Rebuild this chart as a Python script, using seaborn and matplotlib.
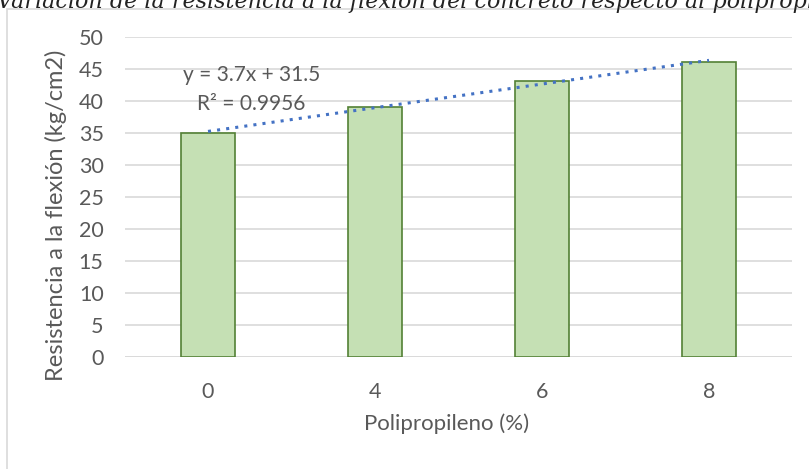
import numpy as np
import pandas as pd
import matplotlib
matplotlib.use("Agg")
import matplotlib.pyplot as plt
import seaborn as sns
from matplotlib.patches import Rectangle

# Data
polipropileno = ["0", "4", "6", "8"]
resistencia = [35, 39, 43, 46]
y_ticks = [0, 5, 10, 15, 20, 25, 30, 35, 40, 45, 50]

titulo = "Variación de la resistencia a la flexión del concreto respecto al polipropileno"

sns.set_theme(style="white")
plt.rcParams['font.family'] = ['Lato', 'DejaVu Sans']

gray_text = "#595959"
grid_color = "#D9D9D9"

df = pd.DataFrame({"Polipropileno": polipropileno, "Resistencia": resistencia})

fig = plt.figure(figsize=(8.09, 4.69), dpi=100)
ax = fig.add_axes([0.1539, 0.2395, 0.8257, 0.6823])

sns.barplot(data=df, x="Polipropileno", y="Resistencia", ax=ax,
            color="#C5E0B4", edgecolor="#538135", linewidth=1.2,
            width=0.32, saturation=1, zorder=3)

# linear trendline (Excel style, on category index 1..n)
idx = np.arange(1, len(resistencia) + 1)
slope, intercept = np.polyfit(idx, resistencia, 1)
fit = slope * idx + intercept
r2 = 1 - np.sum((np.array(resistencia) - fit) ** 2) / np.sum((np.array(resistencia) - np.mean(resistencia)) ** 2)
ax.plot(idx - 1, fit, linestyle=(0, (1, 2)), color="#4472C4", linewidth=2.2, zorder=4)

ax.set_ylim(0, 50)
ax.set_xlim(-0.5, len(polipropileno) - 0.5)
ax.set_yticks(y_ticks)
ax.yaxis.grid(True, color=grid_color, linewidth=1.2, zorder=0)
ax.set_axisbelow(True)
for s in ax.spines.values():
    s.set_visible(False)
ax.axhline(0, color=grid_color, linewidth=1.2, zorder=2)
ax.tick_params(axis="both", length=0, labelsize=15.5, colors=gray_text)
ax.tick_params(axis="y", pad=15)
ax.tick_params(axis="x", pad=18)
ax.set_xlabel("")
ax.set_ylabel("")

fig.text(0.5515, 0.096, "Polipropileno (%)", ha="center", va="center",
         fontsize=16, color=gray_text)
fig.text(0.069, 0.5416, "Resistencia a la flexión (kg/cm2)", ha="center", va="center",
         rotation=90, fontsize=17, color=gray_text)

ax.text(0.19, 0.88, "y = %.1fx + %.1f" % (slope, intercept), transform=ax.transAxes,
        ha="center", va="center", fontsize=15, color=gray_text)
ax.text(0.19, 0.79, "R² = %.4f" % r2, transform=ax.transAxes,
        ha="center", va="center", fontsize=15, color=gray_text)

# chart frame and the cut title above it
fig.patches.append(Rectangle((0.0087, -0.05), 1.2, 1.031, transform=fig.transFigure,
                             fill=False, edgecolor=grid_color, linewidth=1.2))
fig.text(-0.004, 0.997, titulo, ha="left", va="center", fontsize=16,
         family="DejaVu Serif", style="italic", color="#222222")

fig.savefig("out.png", dpi=100)
